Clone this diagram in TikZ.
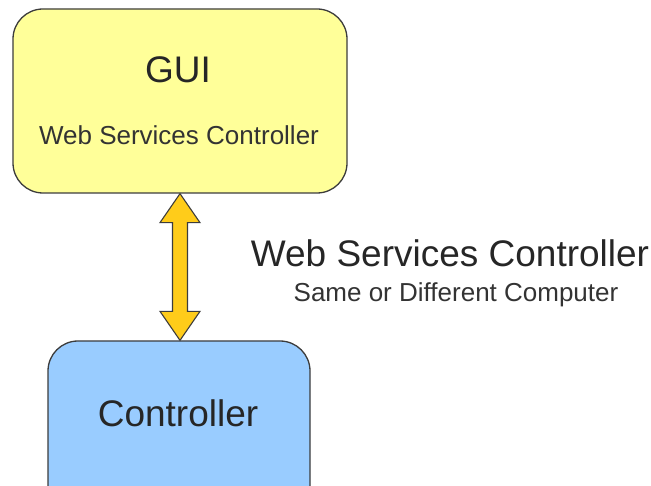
\documentclass[tikz,border=0pt]{standalone}
\usepackage{fontspec}
\setmainfont{Liberation Sans}
\usetikzlibrary{calc}
\definecolor{boxyellow}{HTML}{FFFF99}
\definecolor{boxblue}{HTML}{99CCFF}
\definecolor{arrowgold}{HTML}{FFCC1A}
\definecolor{edge}{HTML}{3C3C3C}
\tikzset{
  box/.style={draw=edge, line width=1.3pt, rounded corners=30pt, inner sep=0pt},
  big/.style={font=\fontsize{37}{40}\selectfont, text=black!85, anchor=base, inner sep=0pt},
  small/.style={font=\fontsize{26}{29}\selectfont, text=black!80, anchor=base, inner sep=0pt},
  fatarrow/.style={draw=edge, line width=1.1pt, fill=arrowgold, line join=miter}
}
\begin{document}
\begin{tikzpicture}[x=1pt,y=1pt]
\useasboundingbox (0,0) rectangle (651,485);
\clip (0,0) rectangle (651,485);
\node[box, fill=boxyellow, minimum width=334pt, minimum height=184pt] (gui) at (180,384) {};
\node[box, fill=boxblue, minimum width=262pt, minimum height=184pt] (ctrl) at (179,52) {};
\node[big] (guit) at (178,402) {GUI};
\node[small] (guis) at (179,340) {Web Services Controller};
\node[big] (ctrlt) at (178,58) {Controller};
\node[big] (wsc) at (450,218) {Web Services Controller};
\node[small] (same) at (456,183) {Same or Different Computer};
\coordinate (at) at (gui.south);
\coordinate (ab) at (gui.south |- ctrl.north);
\draw[fatarrow] (at) -- ($(at)+(20,-29)$) -- ($(at)+(7.5,-29)$) -- ($(ab)+(7.5,29)$) -- ($(ab)+(20,29)$) -- (ab)
  -- ($(ab)+(-20,29)$) -- ($(ab)+(-7.5,29)$) -- ($(at)+(-7.5,-29)$) -- ($(at)+(-20,-29)$) -- cycle;
\end{tikzpicture}
\end{document}
